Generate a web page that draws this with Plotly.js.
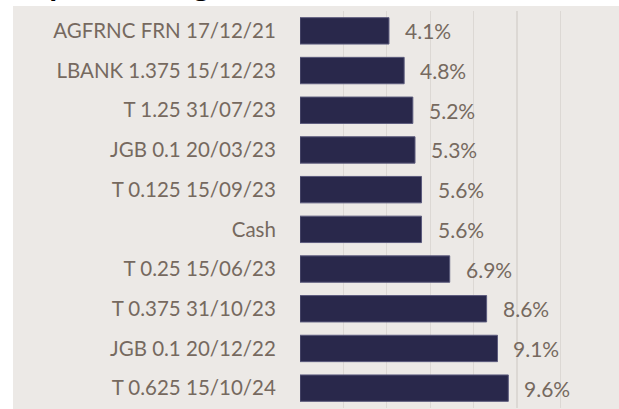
<!DOCTYPE html>
<html>
<head>
<meta charset="utf-8">
<script src="https://cdn.plot.ly/plotly-3.0.1.min.js"></script>
<style>html,body{margin:0;padding:0;background:#fff;}#chart{width:619px;height:409px;}</style>
</head>
<body>
<div id="chart"></div>
<script>
const holdings = ["AGFRNC FRN 17/12/21","LBANK 1.375 15/12/23","T 1.25 31/07/23","JGB 0.1 20/03/23","T 0.125 15/09/23","Cash","T 0.25 15/06/23","T 0.375 31/10/23","JGB 0.1 20/12/22","T 0.625 15/10/24"];
const weights = [4.1,4.8,5.2,5.3,5.6,5.6,6.9,8.6,9.1,9.6];
const valueLabels = ["4.1%","4.8%","5.2%","5.3%","5.6%","5.6%","6.9%","8.6%","9.1%","9.6%"];
const chartTitle = "Top 10 Holdings";

const W = 619, H = 409;
const mL = 300, mR = 19, mT = 11, mB = 1;
const pw = W - mL - mR, ph = H - mT - mB;
const px2x = p => (p - mL) / pw;
const py2y = p => (H - mB - p) / ph;

const font = "Lato, 'Open Sans', sans-serif";
const textColor = "#76695f";

const trace = {
  type: "bar",
  orientation: "h",
  y: holdings,
  x: weights,
  marker: {color: "#29284b", line: {color: "#5c5b7d", width: 1}},
  width: 0.665,
  hoverinfo: "none"
};

const annotations = holdings.map((h, i) => ({
  x: weights[i], y: h, xref: "x", yref: "y",
  text: valueLabels[i], showarrow: false,
  xanchor: "left", xshift: 14,
  font: {family: font, size: 21, color: textColor}
}));
annotations.push({
  xref: "paper", yref: "paper", x: px2x(16), y: py2y(5),
  xanchor: "left", yanchor: "bottom",
  text: "<b>" + chartTitle + "</b>", showarrow: false,
  font: {family: "'Open Sans', sans-serif", size: 26, color: "#000"}
});

const layout = {
  width: W, height: H,
  margin: {l: mL, r: mR, t: mT, b: mB, pad: 0},
  paper_bgcolor: "#ffffff",
  plot_bgcolor: "rgba(0,0,0,0)",
  showlegend: false,
  xaxis: {
    range: [0, pw / 21.7], dtick: 2, tick0: 0,
    showgrid: true, gridcolor: "#dcd8d4", gridwidth: 1.3,
    zeroline: false, showticklabels: false, ticks: "", showline: false, fixedrange: true
  },
  yaxis: {
    type: "category", autorange: "reversed",
    showgrid: false, zeroline: false, showline: false,
    ticks: "outside", ticklen: 19, tickcolor: "rgba(0,0,0,0)",
    tickfont: {family: font, size: 20.5, color: textColor}
  },
  shapes: [{
    type: "rect", layer: "below", xref: "paper", yref: "paper",
    x0: px2x(13), x1: px2x(W + 2), y0: py2y(H + 2), y1: py2y(6),
    fillcolor: "#ece9e6", line: {width: 0}
  }],
  annotations: annotations,
  bargap: 0.335
};

Plotly.newPlot("chart", [trace], layout, {displayModeBar: false, staticPlot: true});
</script>
</body>
</html>
